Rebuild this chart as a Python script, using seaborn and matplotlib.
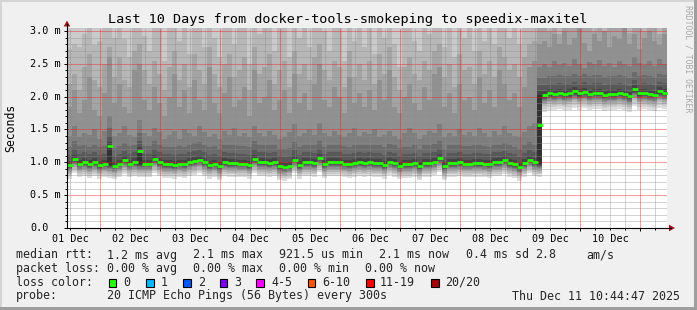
import numpy as np
import matplotlib
matplotlib.use("Agg")
import matplotlib.pyplot as plt
from matplotlib.lines import Line2D
from matplotlib.patches import Rectangle, Polygon
import seaborn as sns

# ---------------- data ----------------
title = "Last 10 Days from docker-tools-smokeping to speedix-maxitel"
y_label = "Seconds"
watermark = "RRDTOOL / TOBI OETIKER"
timestamp = "Thu Dec 11 10:44:47 2025"
day_labels = ["01 Dec", "02 Dec", "03 Dec", "04 Dec", "05 Dec",
              "06 Dec", "07 Dec", "08 Dec", "09 Dec", "10 Dec"]
y_tick_values = [0.0, 0.5, 1.0, 1.5, 2.0, 2.5, 3.0]
y_tick_labels = ["0.0", "0.5 m", "1.0 m", "1.5 m", "2.0 m", "2.5 m", "3.0 m"]
span_hours = 240
hours_per_column = 2
first_midnight_hours = 13 + 15 / 60 + 13 / 3600   # 10:44:47 -> 24:00
step_column = 95

median_ms = [
    0.96, 1.05, 0.98, 1.00, 0.97, 1.00, 0.96, 0.98, 1.25, 0.95,
    0.98, 1.03, 0.98, 1.00, 1.17, 0.98, 0.98, 1.05, 1.00, 0.97,
    0.97, 0.96, 0.98, 0.97, 1.00, 1.02, 1.04, 1.00, 0.96, 0.98,
    0.94, 1.00, 0.99, 0.99, 0.98, 0.98, 0.96, 1.05, 1.00, 1.00,
    0.99, 1.00, 0.94, 0.93, 0.95, 1.04, 0.96, 1.00, 1.00, 0.99,
    1.06, 0.97, 1.00, 1.00, 1.00, 0.98, 0.97, 0.99, 1.00, 0.99,
    1.00, 0.99, 0.99, 0.96, 1.01, 0.99, 0.95, 0.97, 0.97, 0.99,
    0.94, 0.99, 0.99, 1.01, 1.06, 0.94, 0.99, 0.99, 1.00, 0.98,
    0.98, 0.99, 0.99, 0.98, 0.97, 1.00, 1.00, 1.03, 0.99, 0.97,
    0.93, 0.99, 1.04, 1.00, 1.57, 2.02, 2.05, 2.04, 2.06, 2.04,
    2.05, 2.08, 2.05, 2.07, 2.04, 2.06, 2.06, 2.03, 2.04, 2.04,
    2.06, 2.04, 2.01, 2.11, 2.05, 2.06, 2.04, 2.03, 2.08, 2.06,
]
# columns where the lower and upper halves of the pings split apart (p10, p11)
split_columns = {8: (0.97, 1.25), 14: (0.98, 1.17), 94: (0.99, 2.02)}
low_profile_before = [-0.21, -0.175, -0.145, -0.118, -0.095, -0.075, -0.057, -0.04, -0.026, -0.012]
low_profile_after = [-0.25, -0.205, -0.168, -0.138, -0.112, -0.09, -0.07, -0.052, -0.035, -0.018]
up_profile = [0.012, 0.06, 0.15, 0.27]
p15_ms = [
    1.40, 1.55, 1.38, 1.45, 1.42, 1.50, 1.35, 1.48, 1.70, 1.40,
    1.45, 1.55, 1.42, 1.38, 1.65, 1.44, 1.40, 1.52, 1.46, 1.36,
    1.42, 1.48, 1.35, 1.50, 1.44, 1.40, 1.55, 1.46, 1.38, 1.43,
    1.36, 1.47, 1.42, 1.52, 1.40, 1.45, 1.38, 1.55, 1.44, 1.40,
    1.48, 1.42, 1.35, 1.38, 1.46, 1.58, 1.40, 1.45, 1.50, 1.42,
    1.60, 1.44, 1.40, 1.48, 1.42, 1.38, 1.45, 1.52, 1.40, 1.46,
    1.43, 1.50, 1.38, 1.42, 1.48, 1.40, 1.36, 1.45, 1.52, 1.44,
    1.35, 1.42, 1.48, 1.45, 1.58, 1.38, 1.44, 1.40, 1.50, 1.42,
    1.46, 1.40, 1.52, 1.44, 1.38, 1.47, 1.42, 1.56, 1.45, 1.40,
    1.38, 1.46, 1.55, 1.60, 2.45, 2.50, 2.45, 2.55, 2.48, 2.52,
    2.46, 2.58, 2.50, 2.44, 2.53, 2.49, 2.56, 2.47, 2.51, 2.45,
    2.55, 2.50, 2.46, 2.60, 2.52, 2.48, 2.54, 2.47, 2.57, 2.50,
]
p16_ms = [
    1.85, 2.10, 1.75, 1.95, 2.30, 1.80, 1.70, 2.05, 2.60, 1.90,
    2.20, 1.85, 1.75, 2.40, 2.50, 1.95, 1.80, 2.15, 1.90, 1.70,
    2.00, 2.35, 1.85, 2.10, 1.75, 2.25, 1.95, 1.80, 2.45, 1.90,
    1.75, 2.05, 2.30, 1.85, 1.95, 2.15, 1.70, 2.40, 1.90, 2.00,
    2.25, 1.80, 1.95, 2.10, 1.75, 2.35, 1.90, 2.05, 1.80, 2.20,
    2.50, 1.95, 1.85, 2.15, 2.00, 1.75, 2.30, 1.90, 2.05, 1.85,
    2.10, 1.80, 2.25, 1.95, 2.40, 1.85, 1.75, 2.00, 2.20, 1.90,
    1.80, 2.15, 1.95, 2.35, 2.45, 1.85, 2.05, 1.75, 2.20, 1.95,
    2.00, 1.80, 2.30, 1.90, 2.10, 1.85, 2.40, 2.20, 1.95, 2.05,
    1.85, 2.15, 2.45, 2.55, 2.80, 2.85, 2.75, 2.95, 2.80, 3.00,
    2.78, 2.90, 3.05, 2.82, 2.70, 2.95, 2.85, 3.00, 2.76, 2.92,
    2.88, 3.05, 2.80, 2.95, 2.72, 2.90, 3.00, 2.84, 2.78, 2.95,
]
p17_ms = [
    2.20, 2.35, 2.10, 2.45, 2.65, 2.25, 2.15, 2.50, 2.75, 2.30,
    2.60, 2.25, 2.15, 2.70, 2.80, 2.40, 2.20, 2.55, 2.35, 2.10,
    2.45, 2.70, 2.25, 2.50, 2.15, 2.65, 2.40, 2.20, 2.75, 2.35,
    2.15, 2.50, 2.65, 2.30, 2.40, 2.60, 2.10, 2.75, 2.35, 2.45,
    2.65, 2.20, 2.40, 2.55, 2.15, 2.70, 2.35, 2.50, 2.25, 2.60,
    2.80, 2.40, 2.25, 2.55, 2.45, 2.15, 2.70, 2.30, 2.50, 2.25,
    2.55, 2.20, 2.65, 2.35, 2.75, 2.30, 2.10, 2.45, 2.60, 2.35,
    2.25, 2.55, 2.40, 2.70, 2.80, 2.30, 2.50, 2.15, 2.65, 2.40,
    2.45, 2.20, 2.70, 2.35, 2.55, 2.30, 2.75, 2.60, 2.40, 2.50,
    2.30, 2.60, 2.80, 2.85, 3.20, 3.10, 3.00, 3.20, 2.95, 3.15,
    3.05, 3.20, 2.98, 3.10, 3.20, 3.00, 3.15, 2.95, 3.20, 3.10,
    3.05, 3.20, 2.97, 3.15, 3.10, 3.00, 3.20, 3.05, 2.95, 3.15,
]
p18_ms = [
    2.72, 2.80, 2.75, 2.95, 3.10, 2.78, 2.85, 3.20, 3.30, 2.90,
    3.10, 2.88, 2.60, 3.25, 3.30, 2.92, 2.70, 3.05, 3.15, 2.55,
    3.10, 3.25, 2.85, 3.20, 2.65, 3.15, 3.30, 2.75, 3.20, 2.90,
    2.60, 3.10, 3.25, 2.80, 3.30, 3.15, 2.50, 3.25, 2.95, 3.20,
    3.20, 2.70, 3.30, 3.05, 2.60, 3.20, 2.90, 3.30, 2.75, 3.20,
    3.30, 3.00, 2.70, 3.20, 3.10, 2.55, 3.25, 2.85, 3.15, 2.75,
    3.20, 2.65, 3.30, 2.90, 3.25, 2.80, 2.45, 3.15, 3.20, 2.85,
    2.70, 3.20, 2.95, 3.30, 3.30, 2.75, 3.10, 2.60, 3.25, 2.90,
    3.15, 2.70, 3.30, 2.85, 3.20, 2.80, 3.30, 3.25, 2.90, 3.10,
    2.80, 3.20, 3.30, 3.30, 3.40, 3.40, 3.40, 3.40, 3.40, 3.40,
    3.40, 3.40, 3.40, 3.40, 3.40, 3.40, 3.40, 3.40, 3.40, 3.40,
    3.40, 3.40, 3.40, 3.40, 3.40, 3.40, 3.40, 3.40, 3.40, 3.40,
]
top_ping_ms = 4.0  # pings 19 and 20: beyond the top of the chart

rtt_head = "median rtt:"
rtt_stats = ["1.2 ms avg", "2.1 ms max", "921.5 us min", "2.1 ms now", "0.4 ms sd", "2.8", "am/s"]
loss_head = "packet loss:"
loss_stats = ["0.00 % avg", "0.00 % max", "0.00 % min", "0.00 % now"]
color_head = "loss color:"
loss_labels = ["0", "1", "2", "3", "4-5", "6-10", "11-19", "20/20"]
loss_colors = ["#26ff00", "#00b8ff", "#0059ff", "#7e00ff", "#ff00ff", "#ff5500", "#ff0000", "#a00000"]
probe_head = "probe:"
probe_text = "20 ICMP Echo Pings (56 Bytes) every 300s"

# ---------------- figure ----------------
W, H = 697, 310
sns.set_style("white")
plt.rcParams["font.family"] = ["DejaVu Sans Mono", "DejaVu Sans"]
plt.rcParams["axes.unicode_minus"] = False
plt.rcParams["lines.scale_dashes"] = False

fig = plt.figure(figsize=(W / 100, H / 100), dpi=100, facecolor="#f0f0f0")
PX_PER_MS = 65.67
ax = fig.add_axes([67 / W, (H - 228) / H, 600 / W, 200 / H])
ax.set_facecolor("white")
ax.set_xlim(0, span_hours)
ax.set_ylim(0, 200 / PX_PER_MS)
for s in ax.spines.values():
    s.set_visible(False)


def fx(x):
    return x / W


def fy(y):
    return 1 - y / H


# smoke
n = len(median_ms)
edges = np.arange(n + 1) * hours_per_column
centers = (np.arange(n) + 0.5) * hours_per_column
pings = np.zeros((20, n))
for c in range(n):
    lo, hi = split_columns.get(c, (median_ms[c], median_ms[c]))
    prof = low_profile_after if c >= step_column else low_profile_before
    pings[0:10, c] = lo + np.array(prof)
    pings[10:14, c] = hi + np.array(up_profile)
    pings[14, c] = p15_ms[c]
    pings[15, c] = p16_ms[c]
    pings[16, c] = p17_ms[c]
    pings[17, c] = p18_ms[c]
    pings[18, c] = top_ping_ms
    pings[19, c] = top_ping_ms
pings = np.maximum.accumulate(pings, axis=0)

half = 10
for i in range(half):
    shade = int(190 / half * (half - (i + 1))) + 50
    col = "#%02x%02x%02x" % (shade, shade, shade)
    lo = np.append(pings[i], pings[i][-1])
    hi = np.append(pings[19 - i], pings[19 - i][-1])
    ax.fill_between(edges, lo, hi, step="post", color=col, lw=0, zorder=1 + i * 0.01)

# grid (1px dotted, drawn over the smoke)
minor_gray = (0.55, 0.55, 0.55, 0.38)
major_red = (0.95, 0.1, 0.1, 0.42)
dots = (0, (0.72, 0.72))
grid_lw = 0.8
for k in range(1, 31):
    v = k / 10
    major = k % 5 == 0
    ax.axhline(v, color=major_red if major else minor_gray, lw=grid_lw,
               ls=dots, zorder=2, antialiased=False)
k = -3
while True:
    h = first_midnight_hours + 6 * k
    if h >= span_hours:
        break
    if h > 0:
        ax.axvline(h, color=major_red if k % 4 == 0 else minor_gray, lw=grid_lw,
                   ls=dots, zorder=2, antialiased=False)
    k += 1

# median line
sns.scatterplot(x=centers, y=median_ms, marker="_", s=(5 * 0.72 + 0.2) ** 2,
                linewidth=2.0, color="#26ff00", ax=ax, zorder=4, legend=False)
ax.set_xlabel("")
ax.set_ylabel("")

# ticks
midnights = [first_midnight_hours + 24 * d for d in range(10)]
six_h = [first_midnight_hours + 6 * j for j in range(-2, 40) if 0 < first_midnight_hours + 6 * j < span_hours]
ax.set_xticks(midnights)
ax.set_xticks(six_h, minor=True)
ax.set_yticks(y_tick_values)
ax.set_yticks([k / 10 for k in range(31)], minor=True)
ax.tick_params(which="both", direction="out", color="black", width=0.72,
               labelbottom=False, labelleft=False, left=True, bottom=True)
ax.tick_params(which="major", length=2.2)
ax.tick_params(which="minor", length=1.4)

tick_fs = 7.3
ytrans = ax.get_yaxis_transform()
for v, lab in zip(y_tick_values, y_tick_labels):
    ax.text(-37 / 600, v, lab, transform=ytrans, ha="left", va="center",
            fontsize=tick_fs, color="black", clip_on=False)
xtrans = ax.get_xaxis_transform()
for d, lab in enumerate(day_labels):
    ax.text(first_midnight_hours - 12 + 24 * d, -10.5 / 200, lab, transform=xtrans,
            ha="center", va="center", fontsize=tick_fs, color="black", clip_on=False)

# axis lines and arrows
fig.add_artist(Line2D([fx(67), fx(671)], [fy(228), fy(228)], color="black", lw=0.8))
fig.add_artist(Line2D([fx(67), fx(67)], [fy(228), fy(24)], color="black", lw=0.8))
arrow_col = "#a01414"
fig.add_artist(Polygon([(fx(67), fy(20.5)), (fx(63.7), fy(26.5)), (fx(70.3), fy(26.5))],
                       closed=True, color=arrow_col, lw=0))
fig.add_artist(Polygon([(fx(675), fy(228)), (fx(669), fy(224.7)), (fx(669), fy(231.3))],
                       closed=True, color=arrow_col, lw=0))

# frame
fig.add_artist(Rectangle((0, fy(310)), fx(2), 1, color="#d4d4d4", lw=0))
fig.add_artist(Rectangle((0, fy(2)), 1, 2 / H, color="#d4d4d4", lw=0))
fig.add_artist(Rectangle((fx(694), 0), 3 / W, 1, color="#9e9e9e", lw=0))
fig.add_artist(Rectangle((0, 0), 1, 3 / H, color="#9e9e9e", lw=0))

# texts
fig.text(fx(348), fy(19), title, ha="center", va="center", fontsize=9.7, color="black")
fig.text(fx(11), fy(128), y_label, ha="center", va="center", rotation=90,
         fontsize=8.3, color="black")
fig.text(fx(688), fy(59), watermark, ha="center", va="center", rotation=270,
         fontsize=5.9, color="#a8a8a8")

leg_fs = 8.35
rows = [255, 268.5, 282, 296]
fig.text(fx(16), fy(rows[0]), rtt_head, ha="left", va="center", fontsize=leg_fs)
for x, s in zip([107, 193, 279, 379, 465.5, 535, 586.5], rtt_stats):
    fig.text(fx(x), fy(rows[0]), s, ha="left", va="center", fontsize=leg_fs)
fig.text(fx(16), fy(rows[1]), loss_head, ha="left", va="center", fontsize=leg_fs)
for x, s in zip([107, 193, 279, 365], loss_stats):
    fig.text(fx(x), fy(rows[1]), s, ha="left", va="center", fontsize=leg_fs)
fig.text(fx(16), fy(rows[2]), color_head, ha="left", va="center", fontsize=leg_fs)
box_x = [108.5, 146, 183, 219.5, 256.2, 307.5, 366, 431]
lab_x = [123.3, 161, 197.7, 234.3, 271, 322.7, 380, 445]
for bx, lx, lab, colr in zip(box_x, lab_x, loss_labels, loss_colors):
    fig.add_artist(Rectangle((fx(bx), fy(286.5)), 7.5 / W, 7.5 / H, facecolor=colr,
                             edgecolor="black", lw=0.8))
    fig.text(fx(lx), fy(rows[2]), lab, ha="left", va="center", fontsize=leg_fs)
fig.text(fx(16), fy(rows[3]), probe_head, ha="left", va="center", fontsize=leg_fs)
fig.text(fx(107), fy(rows[3]), probe_text, ha="left", va="center", fontsize=leg_fs)
fig.text(fx(680), fy(rows[3]), timestamp, ha="right", va="center", fontsize=leg_fs)

fig.savefig("out.png", dpi=100, facecolor=fig.get_facecolor())
